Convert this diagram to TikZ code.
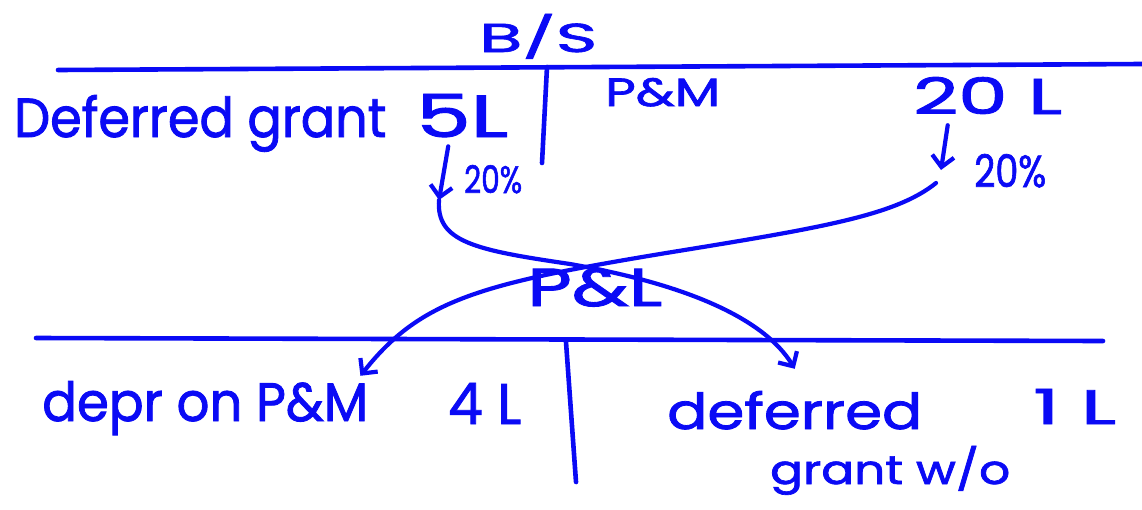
\documentclass[tikz,border=0pt]{standalone}
\usepackage{fontspec}
\setmainfont{Poppins}
\newfontfamily\handfont{Poppins}[FakeBold=1.6]
\usetikzlibrary{arrows.meta}
\definecolor{ink}{RGB}{10,10,245}
% \hw{width}{height}{text}: text stretched to a given width and cap height
\newcommand{\hw}[3]{\resizebox{#1}{#2}{\handfont #3}}
\tikzset{
  lbl/.style={anchor=base west, inner sep=0pt, text=ink},
  rule/.style={draw=ink, line width=4.6pt, line cap=round},
  arr/.style={draw=ink, line width=4.2pt, line cap=round, line join=round,
              -{Straight Barb[length=11pt,width=22pt,line width=4.2pt]}},
}
\begin{document}
\begin{tikzpicture}[x=1pt,y=-1pt]
\fill[white] (0,0) rectangle (1142,509);
\useasboundingbox (0,0) rectangle (1142,509);

% ---- balance sheet block ----
\node[lbl] (bs) at (479,52) {\hw{118pt}{38pt}{B/S}};
\coordinate (tl) at (58,70);
\coordinate (tr) at (1142,64);
\draw[rule] (tl) -- (tr);
\coordinate (tv1) at (547,67);
\coordinate (tv2) at (542,163);
\draw[rule] (tv1) -- (tv2);

\node[lbl] (dgrant) at (14,137) {\hw{372pt}{42pt}{Deferred grant}};
\node[lbl] (fiveL)  at (416,137) {\hw{92pt}{43pt}{5L}};
\node[lbl] (pm)     at (605,106) {\hw{115pt}{28pt}{P\&M}};
\node[lbl] (twentyL) at (913,114) {\hw{149pt}{37pt}{20 L}};
\node[lbl] (pctL)   at (464,193) {\hw{58pt}{28pt}{20\%}};
\node[lbl] (pctR)   at (974,187) {\hw{72pt}{33pt}{20\%}};

% 20% reductions
\coordinate (a1) at (439,200);
\draw[arr] ([xshift=-14pt,yshift=-9pt]fiveL.south) -- (a1);
\coordinate (a2) at (941,170);
\draw[arr] ([xshift=-40pt,yshift=-11pt]twentyL.south) -- (a2);

% ---- profit and loss block ----
\node[lbl] (pl) at (527,306) {\hw{135pt}{38pt}{P\&L}};
\coordinate (bl) at (36,338);
\coordinate (br) at (1103,341);
\draw[rule] (bl) -- (br);
\coordinate (bv1) at (566,342);
\coordinate (bv2) at (576,482);
\draw[rule] (bv1) -- (bv2);

\node[lbl] (depr)  at (42,421)  {\hw{326pt}{40pt}{depr on P\&M}};
\node[lbl] (fourL) at (448,424) {\hw{73pt}{41pt}{4 L}};
\node[lbl] (defd)  at (667,429) {\hw{255pt}{38pt}{deferred}};
\node[lbl] (gwo)   at (770,484) {\hw{240pt}{38pt}{grant w/o}};
\node[lbl] (oneL)  at (1033,424) {\hw{83pt}{35pt}{1 L}};

% transfers to P&L
\coordinate (c2) at (936,183);
\draw[arr] (a1) .. controls (436,242) and (475,250) .. (570,264)
  .. controls (685,284) and (764,318) .. ([yshift=22pt]defd.north);
\draw[arr] (c2) .. controls (895,216) and (820,228) .. (660,254)
  .. controls (480,284) and (420,300) .. ([xshift=-8pt,yshift=5pt]depr.north east);
\end{tikzpicture}
\end{document}
